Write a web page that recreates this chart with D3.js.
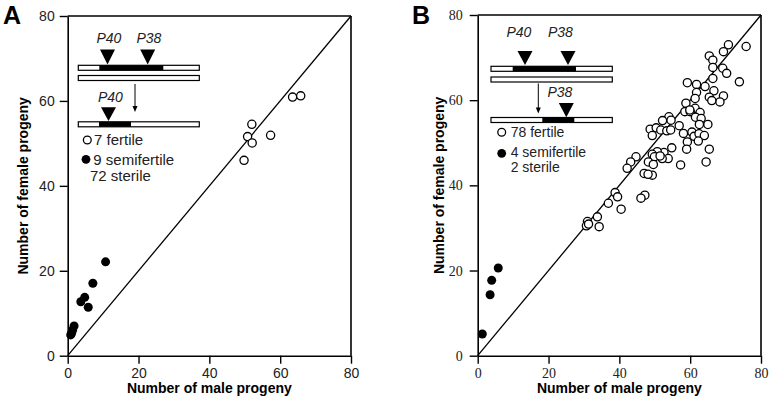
<!DOCTYPE html>
<html><head><meta charset="utf-8">
<script src="https://cdn.jsdelivr.net/npm/d3@7"></script>
<style>
body{margin:0;background:#fff;}
svg{display:block;}
</style></head>
<body>
<svg id="c" width="770" height="401"></svg>
<script>
// ---- data ----
const tickValues = [0, 20, 40, 60, 80];
const panelLabels = ["A", "B"];
const xTitle = "Number of male progeny";
const yTitle = "Number of female progeny";

// Panel A: open = fertile, filled = semifertile
const aFertileX = [63.5, 65.8, 52.0, 50.8, 52.1, 57.3, 49.8];
const aFertileY = [60.9, 61.2, 54.5, 51.6, 50.1, 51.9, 46.0];
const aSemiX = [10.7, 7.1, 4.8, 3.7, 5.8, 1.8, 1.4, 1.1, 0.85];
const aSemiY = [22.1, 17.05, 13.75, 12.7, 11.4, 7.0, 6.05, 5.3, 4.9];
const aLegend = ["7 fertile", "9 semifertile", "72 sterile"];

// Panel B
const bFertileX = [70.8,69.4,75.8,65.4,66.4,66.4,69.2,70.3,66.4,73.9,59.2,61.8,64.2,61.8,66.7,65.4,69.4,68.4,61.4,58.8,66.1,
  61.4,58.5,60.0,62.8,54.0,52.2,54.6,61.5,63.1,48.7,50.4,51.7,53.4,54.5,49.3,56.9,58.1,60.5,61.1,62.5,64.0,65.0,62.6,
  59.2,59.0,62.3,65.4,54.8,52.6,50.7,49.3,53.8,52.1,49.9,48.2,49.6,44.7,43.2,42.2,57.3,64.5,47.0,49.3,
  38.8,39.5,47.2,46.1,36.9,40.5,33.8,31.0,30.7,34.3,48.1,31.3,59.9,51.5];
const bFertileY = [73.0,71.4,72.6,70.4,69.4,67.7,67.5,66.3,65.1,64.3,64.1,63.7,63.2,61.8,62.2,60.7,61.0,59.6,60.4,59.3,59.9,
  58.1,57.3,57.3,57.1,56.1,55.2,55.3,56.0,55.7,53.2,53.5,53.0,52.8,53.0,51.7,54.0,52.2,52.5,51.5,52.1,51.7,54.3,54.3,
  50.2,48.5,50.4,48.5,48.8,47.7,47.9,47.3,46.3,46.3,46.7,45.5,44.9,46.7,45.5,44.0,44.8,45.5,42.8,42.4,
  38.3,37.3,37.7,37.0,35.8,34.4,32.6,31.5,30.5,30.3,42.6,30.9,57.7,46.9];
const bSemiX = [1.3, 3.5, 3.95, 5.8];
const bSemiY = [5.1, 14.3, 17.7, 20.6];
const bLegend = ["78 fertile", "4 semifertile", "2 sterile"];

// ---- drawing ----
const svg = d3.select("#c");
const SANS = "'Liberation Sans', Arial, Helvetica, sans-serif";
const SERIF = "'Liberation Serif', 'Times New Roman', serif";

function panel(opt) {
  const x = d3.scaleLinear().domain([0, 80]).range(opt.xr);
  const y = d3.scaleLinear().domain([0, 80]).range(opt.yr);
  const g = svg.append("g");

  const ax = g.append("g").attr("transform", `translate(0,${opt.yr[0]})`)
    .call(d3.axisBottom(x).tickValues(tickValues).tickSize(8).tickSizeOuter(0).tickPadding(opt.xpad));
  const ay = g.append("g").attr("transform", `translate(${opt.xr[0]},0)`)
    .call(d3.axisLeft(y).tickValues(tickValues).tickSize(8).tickSizeOuter(0).tickPadding(opt.ypad));
  [ax, ay].forEach(a => {
    a.select(".domain").attr("stroke", "#000").attr("stroke-width", 1.6);
    a.selectAll(".tick line").attr("stroke", "#000").attr("stroke-width", 1.4);
    a.selectAll(".tick text").attr("fill", "#222").style("font-family", opt.tickFont).style("font-size", opt.tickSize + "px");
  });
  // frame top and right
  g.append("line").attr("x1", x(0)).attr("x2", x(80)).attr("y1", y(80)).attr("y2", y(80)).attr("stroke", "#000").attr("stroke-width", 1.6);
  g.append("line").attr("x1", x(80)).attr("x2", x(80)).attr("y1", y(80)).attr("y2", y(0)).attr("stroke", "#000").attr("stroke-width", 1.6);
  // diagonal
  g.append("line").attr("x1", x(0)).attr("y1", y(0)).attr("x2", x(80)).attr("y2", y(80)).attr("stroke", "#000").attr("stroke-width", 1.3);

  // titles
  g.append("text").attr("x", (opt.xr[0] + opt.xr[1]) / 2).attr("y", 393).attr("text-anchor", "middle")
    .style("font-family", SANS).style("font-weight", "bold").style("font-size", "14px").text(xTitle);
  g.append("text").attr("transform", `translate(${opt.ytx},${(opt.yr[0] + opt.yr[1]) / 2}) rotate(-90)`).attr("text-anchor", "middle")
    .style("font-family", SANS).style("font-weight", "bold").style("font-size", "14px").text(yTitle);
  g.append("text").attr("x", opt.lx).attr("y", 24).style("font-family", SANS).style("font-weight", "bold").style("font-size", "25px").text(opt.label);

  // points
  g.append("g").selectAll("circle").data(d3.range(opt.fx.length)).join("circle")
    .attr("cx", i => x(opt.fx[i])).attr("cy", i => y(opt.fy[i])).attr("r", 4.1)
    .attr("fill", "#fff").attr("stroke", "#000").attr("stroke-width", 1.3);
  g.append("g").selectAll("circle").data(d3.range(opt.sx.length)).join("circle")
    .attr("cx", i => x(opt.sx[i])).attr("cy", i => y(opt.sy[i])).attr("r", 4.5)
    .attr("fill", "#000");

  // inset
  const ins = opt.inset;
  const bar = (y0, seg) => {
    g.append("rect").attr("x", ins.bx0).attr("y", y0).attr("width", ins.bx1 - ins.bx0).attr("height", 5)
      .attr("fill", "#fff").attr("stroke", "#000").attr("stroke-width", 1.2);
    if (seg) g.append("rect").attr("x", seg[0]).attr("y", y0).attr("width", seg[1] - seg[0]).attr("height", 5).attr("fill", "#000");
  };
  const tri = (cx, top, bot) => g.append("path").attr("d", `M${cx - 7.5},${top}L${cx + 7.5},${top}L${cx},${bot}Z`).attr("fill", "#000");
  const lab = (tx, ty, t) => g.append("text").attr("x", tx).attr("y", ty).style("font-family", SANS).style("font-style", "italic").style("font-size", "14px").attr("fill", "#222").text(t);
  ins.labels.forEach(l => lab(l[0], l[1], l[2]));
  ins.tris.forEach(t => tri(t[0], t[1], t[2]));
  bar(ins.y1, ins.seg1);
  bar(ins.y2, null);
  bar(ins.y3, ins.seg3);
  // arrow
  g.append("line").attr("x1", ins.ax).attr("x2", ins.ax).attr("y1", ins.ay0).attr("y2", ins.ay1 - 5).attr("stroke", "#000").attr("stroke-width", 1);
  g.append("path").attr("d", `M${ins.ax - 2.5},${ins.ay1 - 6}L${ins.ax + 2.5},${ins.ay1 - 6}L${ins.ax},${ins.ay1}Z`).attr("fill", "#000");
  // legend
  const L = opt.legend;
  g.append("circle").attr("cx", L.c1[0]).attr("cy", L.c1[1]).attr("r", 3.9).attr("fill", "#fff").attr("stroke", "#000").attr("stroke-width", 1.3);
  g.append("circle").attr("cx", L.c2[0]).attr("cy", L.c2[1]).attr("r", 4.4).attr("fill", "#000");
  L.texts.forEach((t, i) => g.append("text").attr("x", L.pos[i][0]).attr("y", L.pos[i][1])
    .style("font-family", SANS).style("font-size", L.size + "px").attr("fill", "#222").text(t));
}

panel({
  xr: [67.7, 351], yr: [355.7, 16], label: panelLabels[0], lx: 3, ytx: 28,
  tickFont: SANS, tickSize: 14, xpad: 4, ypad: 5,
  fx: aFertileX, fy: aFertileY, sx: aSemiX, sy: aSemiY,
  inset: {
    bx0: 78.3, bx1: 199.3, y1: 65.3, y2: 75.5, y3: 121.8,
    seg1: [99.3, 163.3], seg3: [99, 131],
    tris: [[107.5, 49.5, 64.5], [147.7, 49.5, 64.5], [108.5, 107.3, 121]],
    labels: [[96.5, 43, "P40"], [136.5, 43, "P38"], [98, 102, "P40"]],
    ax: 135, ay0: 84, ay1: 112
  },
  legend: { c1: [87.3, 140], c2: [86, 159.3], size: 15,
    texts: aLegend, pos: [[94, 144.5], [93.3, 164.5], [90, 180.5]] }
});

panel({
  xr: [477.7, 761], yr: [355.7, 15], label: panelLabels[1], lx: 412, ytx: 444,
  tickFont: SERIF, tickSize: 14, xpad: 4, ypad: 7,
  fx: bFertileX, fy: bFertileY, sx: bSemiX, sy: bSemiY,
  inset: {
    bx0: 491, bx1: 612.3, y1: 66.3, y2: 77, y3: 117.5,
    seg1: [512.7, 576], seg3: [542.3, 574.3],
    tris: [[525, 51, 65], [568, 51, 65], [566.3, 103, 117.3]],
    labels: [[506.5, 37, "P40"], [548, 37, "P38"], [547.5, 97, "P38"]],
    ax: 538.3, ay0: 83.5, ay1: 113.5
  },
  legend: { c1: [501.7, 132.3], c2: [501.7, 153.3], size: 14,
    texts: bLegend, pos: [[510.7, 137], [510.7, 157], [510.7, 172]] }
});
</script>
</body></html>
